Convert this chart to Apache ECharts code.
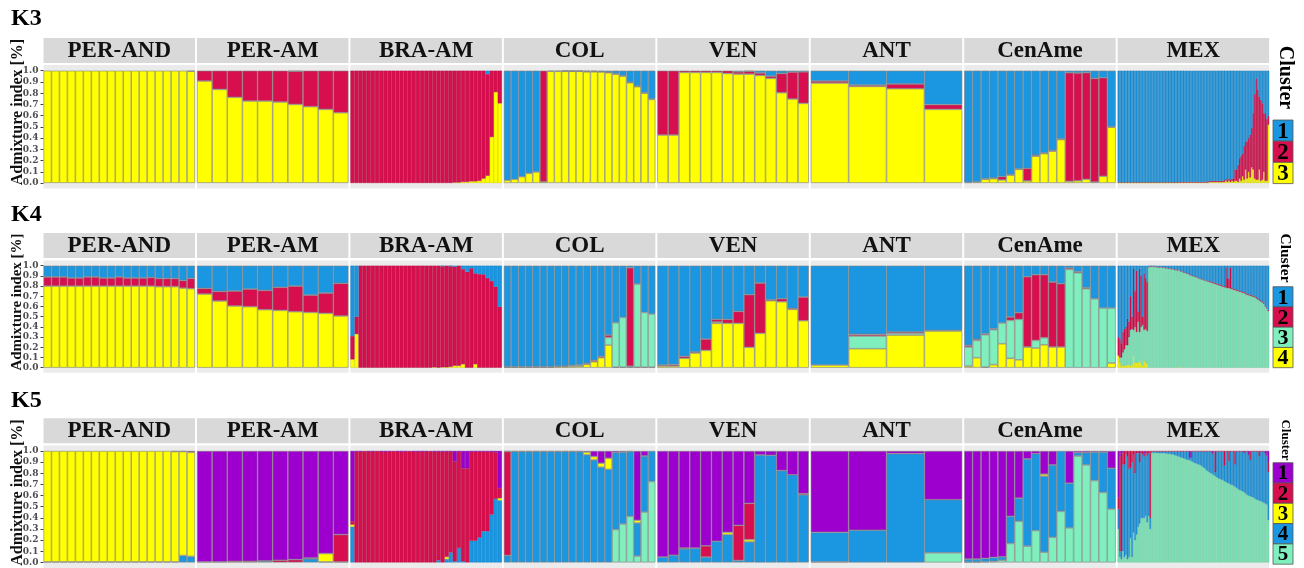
<!DOCTYPE html>
<html><head><meta charset="utf-8">
<script src="https://cdn.jsdelivr.net/npm/echarts@6/dist/echarts.min.js"></script>
<style>html,body{margin:0;padding:0;background:#fff}#c{width:1304px;height:568px}</style>
</head><body><div id="c"></div>
<script>
// ---------- categories / labels ----------
const POPULATIONS = ['PER-AND','PER-AM','BRA-AM','COL','VEN','ANT','CenAme','MEX'];
const Y_TICKS = [0.0,0.1,0.2,0.3,0.4,0.5,0.6,0.7,0.8,0.9,1.0];
const ROW_TITLES = ['K3','K4','K5'];
const CLUSTERS_K3 = ['1','2','3'];
const CLUSTERS_K4 = ['1','2','3','4'];
const CLUSTERS_K5 = ['1','2','3','4','5'];
const BLUE='#1B96E0', RED='#D80F4F', YEL='#FFFF00', GRN='#80EFBE', PUR='#9D00CE';
const COLORS_K3 = [BLUE, RED, YEL];
const COLORS_K4 = [BLUE, RED, GRN, YEL];
const COLORS_K5 = [PUR, RED, YEL, BLUE, GRN];
const EDGE = {'#1B96E0':'#1479B8','#D80F4F':'#A90B3D','#FFFF00':'#C8C800','#80EFBE':'#5EBF94','#9D00CE':'#7600A0'};

// ---------- K3 : [c1,c2,c3] per individual ----------
const K3_PER_AND = [[0,0,1],[0,0,1],[0,0,1],[0,0,1],[0,0,1],[0,0,1],[0,0,1],[0,0,1],[0,0,1],[0,0,1],
 [0,0,1],[0,0,1],[0,0,1],[0,0,1],[0,0,1],[0,0,1],[0,0,1],[0,0,1],[0,.005,.995]];
const K3_PER_AM = [[0,.092,.908],[0,.166,.834],[0,.237,.763],[0,.27,.73],[0,.27,.73],[0,.279,.721],[.005,.295,.70],[0,.32,.68],[0,.344,.656],[0,.374,.626]];
const K3_BRA_AM = [[0,1,0],[0,1,0],[0,1,0],[0,1,0],[0,1,0],[0,1,0],[0,1,0],[0,1,0],[0,1,0],[0,1,0],
 [0,1,0],[0,1,0],[0,1,0],[0,1,0],[0,1,0],[0,1,0],[0,1,0],[0,1,0],[0,1,0],[0,1,0],
 [0,1,0],[0,1,0],[0,1,0],[0,1,0],[0,1,0],[0,.995,.005],[0,.995,.005],[0,.99,.01],[0,.99,.01],[0,.985,.015],
 [0,.985,.015],[0,.98,.02],[0,.96,.04],[.03,.905,.065],[0,.59,.41],[0,.19,.81],[0,.29,.71]];
const K3_COL = [[.976,0,.024],[.967,0,.033],[.944,0,.056],[.914,0,.086],[.902,0,.098],[0,.99,.01],[0,.005,.995],[0,.005,.995],[.002,.003,.995],[.003,.002,.995],
 [.003,.002,.995],[.005,.005,.99],[.005,.005,.99],[.008,.002,.99],[.013,.005,.982],[.025,.005,.97],[.043,.005,.952],[.102,.005,.893],[.137,.005,.858],[.195,.005,.80],[.25,.005,.745]];
const K3_VEN = [[0,.573,.427],[0,.573,.427],[0,.015,.985],[0,.015,.985],[0,.015,.985],[0,.015,.985],[0,.024,.976],[.01,.02,.97],[.005,.025,.97],[.02,.022,.958],
 [.048,.02,.932],[.024,.172,.804],[.012,.24,.748],[.01,.281,.709]];
const K3_ANT = [[.092,.018,.89],[.128,.012,.86],[.118,.042,.84],[.302,.042,.656]];
const K3_CENAME = [[.994,0,.006],[.991,0,.009],[.961,.006,.033],[.955,.006,.039],[.943,.03,.027],[.924,.005,.071],[.873,.005,.122],[.869,.113,.018],[.753,.009,.238],[.732,.006,.262],
 [.709,.008,.283],[.607,.006,.387],[.018,.967,.015],[.021,.959,.02],[.018,.949,.033],[.068,.923,.009],[.062,.878,.06],[.498,.005,.497]];
const K3_MEX = [
 [.994,.004,.002],[.994,.004,.002],[.994,.004,.002],[.994,.004,.002],[.994,.004,.002],[.994,.004,.002],[.994,.004,.002],[.994,.004,.002],[.994,.004,.002],[.994,.004,.002],
 [.994,.004,.002],[.994,.004,.002],[.994,.004,.002],[.994,.004,.002],[.994,.004,.002],[.994,.004,.002],[.994,.004,.002],[.994,.004,.002],[.994,.004,.002],[.994,.004,.002],
 [.994,.004,.002],[.994,.004,.002],[.994,.004,.002],[.994,.004,.002],[.994,.004,.002],[.994,.004,.002],[.994,.004,.002],[.994,.004,.002],[.994,.004,.002],[.994,.004,.002],
 [.994,.004,.002],[.994,.004,.002],[.994,.004,.002],[.994,.004,.002],[.994,.004,.002],[.994,.004,.002],[.994,.004,.002],[.994,.004,.002],[.994,.004,.002],[.994,.004,.002],
 [.99,.006,.004],[.99,.006,.004],[.99,.006,.004],[.99,.006,.004],[.99,.006,.004],[.99,.006,.004],[.99,.006,.004],[.99,.006,.004],[.99,.006,.004],[.99,.006,.004],
 [.99,.006,.004],[.99,.006,.004],[.99,.006,.004],[.99,.006,.004],[.99,.006,.004],[.99,.006,.004],[.99,.006,.004],[.99,.006,.004],[.99,.006,.004],[.99,.006,.004],
 [.982,.01,.008],[.982,.01,.008],[.982,.01,.008],[.982,.01,.008],[.982,.01,.008],[.982,.01,.008],[.982,.01,.008],[.982,.01,.008],[.982,.01,.008],[.982,.01,.008],
 [.975,.015,.01],[.965,.015,.02],[.975,.015,.01],[.96,.02,.02],[.97,.02,.01],[.96,.02,.02],[.96,.03,.01],[.88,.1,.02],[.88,.1,.02],[.84,.15,.01],
 [.78,.18,.04],[.76,.22,.02],[.74,.2,.06],[.67,.3,.03],[.63,.25,.12],[.63,.33,.04],[.6,.3,.1],[.57,.38,.05],[.51,.35,.14],[.38,.5,.12],
 [.21,.75,.04],[.07,.9,.03],[.17,.8,.03],[.23,.65,.12],[.26,.72,.02],[.29,.68,.03],[.38,.52,.1],[.38,.6,.02],[.43,.55,.02],[.4,.08,.52]];

// ---------- K4 : [c1,c2,c3,c4] per individual ----------
const K4_PER_AND = [[.11,.09,0,.8],[.11,.09,0,.8],[.11,.09,0,.8],[.12,.08,0,.8],[.12,.08,0,.8],[.11,.09,0,.8],[.11,.09,0,.8],[.12,.08,0,.8],[.12,.08,0,.8],[.11,.09,0,.8],
 [.12,.08,0,.8],[.12,.08,0,.8],[.12,.08,0,.8],[.115,.085,0,.8],[.125,.08,0,.795],[.125,.08,0,.795],[.125,.08,0,.795],[.145,.075,0,.78],[.125,.1,0,.775]];
const K4_PER_AM = [[.222,.056,0,.722],[.252,.094,0,.654],[.248,.147,0,.605],[.229,.173,0,.598],[.242,.189,0,.569],[.212,.226,0,.562],[.2,.251,0,.549],[.288,.17,0,.542],[.268,.199,0,.533],[.173,.32,0,.507]];
const K4_BRA_AM = [[.69,.228,0,.082],[.5,.17,0,.33],[0,1,0,0],[0,1,0,0],[0,1,0,0],[0,1,0,0],[0,1,0,0],[0,1,0,0],[0,1,0,0],[0,1,0,0],
 [0,1,0,0],[0,1,0,0],[0,1,0,0],[0,1,0,0],[0,1,0,0],[0,1,0,0],[0,1,0,0],[0,1,0,0],[0,1,0,0],[0,1,0,0],
 [0,.995,0,.005],[0,1,0,0],[.005,.99,0,.005],[0,.995,0,.005],[.005,.985,0,.01],[.01,.97,0,.02],[0,.98,0,.02],[.033,.932,0,.035],[.06,.94,0,0],[.025,.975,0,0],
 [.075,.89,0,.035],[.082,.918,0,0],[.085,.915,0,0],[.12,.88,0,0],[.15,.85,0,0],[.206,.794,0,0],[.402,.598,0,0]];
const K4_COL = [[.99,0,.005,.005],[.99,0,.005,.005],[.99,0,.005,.005],[.99,0,.005,.005],[.99,0,.005,.005],[.99,0,.005,.005],[.99,0,.005,.005],[.985,0,.005,.01],[.985,0,.005,.01],[.977,0,.01,.013],
 [.974,0,.011,.015],[.958,.009,0,.033],[.928,.013,0,.059],[.889,.013,0,.098],[.68,.023,.075,.222],[.559,0,.436,.005],[.507,0,.488,.005],[.02,.965,.01,.005],[.18,0,.815,.005],[.458,0,.537,.005],[.474,0,.521,.005]];
const K4_VEN = [[.974,.01,0,.016],[.97,.014,0,.016],[.889,.019,0,.092],[.846,.01,0,.144],[.719,.111,0,.17],[.526,.026,.013,.435],[.526,.039,0,.435],[.448,.117,0,.435],[.284,.516,0,.2],[.17,.493,0,.337],
 [.333,.01,0,.657],[.324,.029,0,.647],[.418,.01,0,.572],[.307,.232,0,.461]];
const K4_ANT = [[.974,0,0,.026],[.673,.017,.124,.186],[.65,.013,.017,.32],[.634,0,.006,.36]];
const K4_CENAME = [[.781,.016,.187,.016],[.722,.01,.17,.098],[.667,.009,.318,.006],[.618,.009,.343,.03],[.562,0,.203,.235],[.503,.033,.372,.092],[.461,.065,.396,.078],[.108,.686,.003,.203],[.088,.644,.075,.193],[.088,.618,.069,.225],
 [.16,.637,0,.203],[.176,.621,0,.203],[.023,.013,.964,0],[.059,.01,.931,0],[.215,.01,.775,0],[.324,0,.676,0],[.415,0,.585,0],[.415,0,.539,.046]];
const K4_MEX = [
 [.70,.18,0,.12],[.72,.18,.05,.05],[.76,.14,.08,.02],[.65,.2,.13,.02],[.62,.2,.16,.02],[.6,.18,.2,.02],[.52,.26,.19,.03],[.55,.15,.27,.03],[.3,.33,.35,.02],[.5,.12,.35,.03],
 [.03,.6,.25,.12],[.25,.35,.35,.05],[.05,.6,.3,.05],[.45,.1,.4,.05],[.03,.62,.28,.07],[.1,.5,.35,.05],[.5,.08,.4,.02],[.08,.55,.3,.07],[.12,.5,.33,.05],[.16,.48,.32,.04],
 [.01,.005,.985,0],[.005,.005,.99,0],[.005,.005,.99,0],[.005,.005,.99,0],[.005,.005,.99,0],[.01,.005,.985,0],[.01,.005,.985,0],[.015,.005,.98,0],[.01,.005,.985,0],[.015,.005,.98,0],
 [.015,.005,.98,0],[.02,.005,.975,0],[.02,.005,.975,0],[.025,.005,.97,0],[.025,.005,.97,0],[.03,.005,.965,0],[.03,.005,.965,0],[.035,.005,.96,0],[.04,.005,.955,0],[.04,.005,.955,0],
 [.04,.005,.945,.01],[.05,.005,.945,0],[.055,.005,.94,0],[.06,.005,.935,0],[.065,.005,.93,0],[.07,.005,.925,0],[.075,.005,.92,0],[.085,.005,.91,0],[.09,.005,.905,0],[.095,.005,.9,0],
 [.1,.005,.895,0],[.105,.005,.89,0],[.11,.005,.885,0],[.12,.005,.875,0],[.125,.005,.87,0],[.13,.005,.865,0],[.135,.005,.86,0],[.14,.005,.855,0],[.145,.005,.85,0],[.15,.005,.845,0],
 [.15,.01,.84,0],[.155,.01,.835,0],[.16,.01,.83,0],[.165,.01,.825,0],[.17,.01,.82,0],[.175,.01,.815,0],[.18,.01,.81,0],[.185,.01,.805,0],[.19,.01,.8,0],[.195,.01,.795,0],
 [.2,.01,.79,0],[.015,.2,.785,0],[.12,.1,.78,0],[.13,.09,.78,0],[.02,.205,.775,0],[.22,.01,.77,0],[.225,.01,.765,0],[.23,.01,.76,0],[.235,.01,.755,0],[.24,.01,.75,0],
 [.245,.01,.745,0],[.25,.01,.74,0],[.255,.01,.735,0],[.26,.01,.73,0],[.27,.01,.72,0],[.275,.01,.715,0],[.28,.01,.71,0],[.285,.01,.705,0],[.29,.01,.7,0],[.295,.01,.695,0],
 [.3,.01,.69,0],[.31,.01,.68,0],[.32,.01,.67,0],[.33,.01,.66,0],[.34,.01,.65,0],[.35,.01,.64,0],[.365,.01,.625,0],[.39,.01,.6,0],[.41,.01,.58,0],[.435,.01,.555,0]];

// ---------- K5 : [c1,c2,c3,c4,c5] per individual ----------
const K5_PER_AND = [[0,0,.995,.005,0],[0,0,.995,.005,0],[0,0,.995,.005,0],[0,0,.995,.005,0],[0,0,.995,.005,0],[0,0,.995,.005,0],[0,0,.995,.005,0],[0,0,.995,.005,0],[0,0,.995,.005,0],[0,0,.995,.005,0],
 [0,0,.995,.005,0],[0,0,.995,.005,0],[0,0,.995,.005,0],[0,0,.995,.005,0],[0,0,.995,.005,0],[0,0,.995,.005,0],[0,.005,.99,.005,0],[0,.005,.933,.062,0],[0,.012,.934,.054,0]];
const K5_PER_AM = [[.995,.005,0,0,0],[.995,.005,0,0,0],[.99,.01,0,0,0],[.99,.01,0,0,0],[.985,.003,0,.012,0],[.98,.02,0,0,0],[.975,.025,0,0,0],[.96,.007,0,.033,0],[.92,0,.075,.005,0],[.75,.245,0,.005,0]];
const K5_BRA_AM = [[.63,.03,.02,.32,0],[.005,.995,0,0,0],[.005,.995,0,0,0],[0,1,0,0,0],[.005,.995,0,0,0],[.005,.995,0,0,0],[0,1,0,0,0],[.005,.995,0,0,0],[.005,.995,0,0,0],[.005,.995,0,0,0],
 [0,1,0,0,0],[.005,.995,0,0,0],[.005,.995,0,0,0],[.005,.995,0,0,0],[0,1,0,0,0],[.005,.995,0,0,0],[.005,.995,0,0,0],[.005,.995,0,0,0],[.005,.995,0,0,0],[0,1,0,0,0],
 [.005,.995,0,0,0],[.005,.975,0,.02,0],[.005,.995,0,0,0],[.005,.945,.02,.03,0],[.005,.905,0,.09,0],[.095,.895,0,.01,0],[.005,.865,0,.13,0],[.155,.835,0,.01,0],[.155,.845,0,0,0],[.005,.8,0,.195,0],
 [.005,.8,0,.195,0],[.005,.77,0,.225,0],[.005,.715,0,.28,0],[.005,.715,0,.28,0],[.005,.565,0,.43,0],[.01,.42,0,.57,0],[.333,.09,.02,.557,0]];
const K5_COL = [[.005,.932,0,.063,0],[.005,0,0,.995,0],[.005,0,0,.995,0],[.005,0,0,.995,0],[.005,0,0,.995,0],[.005,0,0,.995,0],[.005,0,0,.995,0],[.005,0,0,.995,0],[.005,0,0,.995,0],[.005,0,0,.995,0],
 [.005,0,0,.995,0],[.01,0,.024,.966,0],[.05,0,.03,.92,0],[.11,0,.035,.855,0],[.065,0,.1,.835,0],[.015,0,0,.69,.295],[.01,0,0,.645,.345],[.005,0,0,.581,.414],[.622,0,.024,.297,.057],[.045,0,0,.503,.452],[0,0,0,.274,.726]];
const K5_VEN = [[.952,0,0,.048,0],[.935,0,0,.065,0],[.872,.006,0,.122,0],[.872,0,0,.128,0],[.851,.101,0,.048,0],[.81,0,0,.19,0],[.73,0,.02,.25,0],[.667,.315,0,.018,0],[.47,.325,.02,.185,0],[.036,0,0,.964,0],
 [.039,0,0,.961,0],[.176,0,0,.824,0],[.214,0,0,.786,0],[.383,.01,0,.607,0]];
const K5_ANT = [[.73,0,0,.265,.005],[.711,0,0,.289,0],[.024,0,0,.976,0],[.437,0,0,.477,.086]];
const K5_CENAME = [[.97,0,0,.027,.003],[.97,0,0,.027,.003],[.964,0,0,.03,.006],[.955,0,0,.035,.01],[.95,0,0,.03,.02],[.586,0,0,.244,.17],[.423,0,0,.208,.369],[.071,0,0,.783,.146],[.024,0,0,.69,.286],[.208,0,.018,.682,.092],
 [.125,0,0,.649,.226],[0,0,0,.542,.458],[.289,0,0,.401,.31],[.015,0,0,.03,.955],[.015,0,0,.11,.875],[.01,0,0,.255,.735],[.01,0,0,.362,.628],[.155,0,0,.366,.479]];
const K5_MEX = [
 [.42,.1,0,.18,.3],[.05,.85,0,.05,.05],[.02,.88,0,.07,.03],[.02,.1,0,.78,.1],[0,.12,0,.83,.05],[0,.03,0,.9,.07],[0,.05,0,.92,.03],[0,.16,0,.79,.05],[0,.15,0,.63,.22],[0,.1,0,.85,.05],
 [0,.03,0,.7,.27],[0,.2,0,.6,.2],[0,.02,0,.73,.25],[0,.02,0,.66,.32],[.02,.08,0,.55,.35],[0,.02,0,.58,.4],[0,.03,0,.57,.4],[.03,.02,0,.55,.4],[0,.02,0,.56,.42],[0,.04,0,.6,.36],
 [0,.02,0,.56,.42],[0,.6,0,.1,.3],[0,.005,0,.01,.985],[0,.005,0,.01,.985],[0,.005,0,.01,.985],[0,.005,0,.01,.985],[0,.005,0,.015,.98],[0,.005,0,.015,.98],[0,.005,0,.015,.98],[0,.005,0,.015,.98],
 [0,.005,0,.015,.98],[0,.005,0,.015,.98],[0,.005,0,.02,.975],[0,.005,0,.02,.975],[0,.005,0,.02,.975],[0,.005,0,.025,.97],[0,.005,0,.025,.97],[0,.005,0,.03,.965],[0,.005,0,.035,.96],[0,.005,0,.04,.955],
 [0,.005,0,.045,.95],[0,.005,0,.05,.945],[0,.005,0,.055,.94],[0,.005,0,.06,.935],[0,.005,0,.065,.93],[0,.005,0,.07,.925],[0,.005,0,.075,.92],[.06,0,0,.02,.92],[.06,0,0,.03,.91],[0,.005,0,.09,.905],
 [0,.005,0,.1,.895],[0,.005,0,.105,.89],[0,.005,0,.11,.885],[0,.005,0,.115,.88],[0,.005,0,.12,.875],[0,.005,0,.13,.865],[0,.005,0,.14,.855],[0,.005,0,.15,.845],[0,.005,0,.165,.83],[0,.005,0,.175,.82],
 [0,.005,0,.185,.81],[0,.005,0,.195,.8],[.02,.005,0,.18,.795],[0,.005,0,.21,.785],[0,.19,0,.035,.775],[0,.005,0,.23,.765],[0,.005,0,.24,.755],[0,.005,0,.245,.75],[0,.005,0,.25,.745],[0,.005,0,.255,.74],
 [0,.13,0,.14,.73],[0,.005,0,.275,.72],[0,.005,0,.28,.715],[0,.09,0,.2,.71],[0,.005,0,.295,.7],[0,.005,0,.3,.695],[0,.005,0,.305,.69],[0,.12,0,.2,.68],[0,.005,0,.325,.67],[0,.005,0,.335,.66],
 [0,.005,0,.345,.65],[0,.005,0,.35,.645],[0,.005,0,.355,.64],[.01,.005,0,.355,.63],[0,.005,0,.375,.62],[0,.005,0,.388,.607],[.03,.005,0,.365,.6],[0,.08,0,.325,.595],[0,.005,0,.405,.59],[0,.005,0,.41,.585],
 [0,.005,0,.42,.575],[0,.005,0,.43,.565],[0,.005,0,.435,.56],[0,.05,0,.395,.555],[0,.005,0,.445,.55],[0,.005,0,.45,.545],[0,.005,0,.46,.535],[.02,.005,0,.445,.53],[.04,.005,0,.435,.52],[.1,.09,0,.43,.38]];

// ---------- layout ----------
const SERIF = '"Liberation Serif","Times New Roman",serif';
const ROWS = [
  {title:ROW_TITLES[0], K:3, panels:[K3_PER_AND,K3_PER_AM,K3_BRA_AM,K3_COL,K3_VEN,K3_ANT,K3_CENAME,K3_MEX], colors:COLORS_K3, labels:CLUSTERS_K3,
   titleY:19, stripTop:38, gridTop:65.1, gridH:123.5, yTitleY:112, yTitleSize:16, clusterY:77.5, clusterSize:20, boxTop:120, boxH:21.2, numSize:23},
  {title:ROW_TITLES[1], K:4, panels:[K4_PER_AND,K4_PER_AM,K4_BRA_AM,K4_COL,K4_VEN,K4_ANT,K4_CENAME,K4_MEX], colors:COLORS_K4, labels:CLUSTERS_K4,
   titleY:215, stripTop:233, gridTop:260.6, gridH:112.2, yTitleY:302, yTitleSize:15, clusterY:258, clusterSize:15.5, boxTop:286.7, boxH:20.25, numSize:22},
  {title:ROW_TITLES[2], K:5, panels:[K5_PER_AND,K5_PER_AM,K5_BRA_AM,K5_COL,K5_VEN,K5_ANT,K5_CENAME,K5_MEX], colors:COLORS_K5, labels:CLUSTERS_K5,
   titleY:401, stripTop:418.3, gridTop:445.4, gridH:123.2, yTitleY:492.5, yTitleSize:16, clusterY:440, clusterSize:13, boxTop:462.7, boxH:20.3, numSize:21}
];
const P_LEFT = 43.5, P_STEP = 153.45, P_W = 151.5;

const grids=[], xAxes=[], yAxes=[], series=[], graphics=[];
ROWS.forEach((row, r) => {
  graphics.push({type:'text', x:11, y:row.titleY, style:{text:row.title, font:'bold 24px '+SERIF, fill:'#000', textVerticalAlign:'middle'}});
  graphics.push({type:'text', x:17.5, y:row.yTitleY, rotation:Math.PI/2,
    style:{text:'Admixture index [%]', font:'bold '+row.yTitleSize+'px '+SERIF, fill:'#111', textAlign:'center', textVerticalAlign:'middle'}});
  row.panels.forEach((pd, p) => {
    const gi = grids.length;
    const left = P_LEFT + P_STEP*p;
    grids.push({left:left, top:row.gridTop, width:P_W, height:row.gridH, show:true, backgroundColor:'#EBEBEB', borderWidth:0});
    xAxes.push({type:'category', gridIndex:gi, data:pd.map((_,i)=>i+1), show:false, boundaryGap:true});
    yAxes.push({type:'value', gridIndex:gi, min:-0.05, max:1.05, splitLine:{show:false}, axisLine:{show:false},
      axisTick:{show:p===0, customValues:Y_TICKS, length:3, lineStyle:{color:'#444', width:1}},
      axisLabel:{show:p===0, customValues:Y_TICKS, formatter:v=>Number(v).toFixed(1), margin:5,
        fontFamily:'"DejaVu Serif",serif', fontWeight:'bold', fontSize:9, color:'#4d4d4d'}});
    const dense = pd.length > 30;
    for (let k=row.K-1; k>=0; k--) {
      series.push({type:'bar', xAxisIndex:gi, yAxisIndex:gi, stack:'s'+gi, barCategoryGap:'0%', barGap:'0%',
        data:pd.map(ind => ind[k]===0 ? '-' : ind[k]),
        itemStyle:{color:row.colors[k], borderColor:dense ? EDGE[row.colors[k]] : '#808080', borderWidth:dense?0.4:0.6},
        silent:true, animation:false});
    }
    graphics.push({type:'rect', shape:{x:left, y:row.stripTop, width:P_W, height:25}, style:{fill:'#D9D9D9'}, z:-1});
    graphics.push({type:'text', x:left+P_W/2, y:row.stripTop+13, style:{text:POPULATIONS[p], font:'bold 23px '+SERIF, fill:'#111', textAlign:'center', textVerticalAlign:'middle'}});
  });
  // legend
  graphics.push({type:'text', x:1285, y:row.clusterY, rotation:-Math.PI/2,
    style:{text:'Cluster', font:'bold '+row.clusterSize+'px '+SERIF, fill:'#000', textAlign:'center', textVerticalAlign:'middle'}});
  row.labels.forEach((lab, k) => {
    const y = row.boxTop + k*row.boxH;
    graphics.push({type:'rect', shape:{x:1273, y:y, width:20, height:row.boxH}, style:{fill:row.colors[k], stroke:'#555', lineWidth:0.8}});
    graphics.push({type:'text', x:1283, y:y+row.boxH/2+1, style:{text:lab, font:'bold '+row.numSize+'px '+SERIF, fill:'#000', textAlign:'center', textVerticalAlign:'middle'}});
  });
});

const chart = echarts.init(document.getElementById('c'), null, {renderer:'canvas'});
chart.setOption({animation:false, backgroundColor:'#fff', grid:grids, xAxis:xAxes, yAxis:yAxes, series:series, graphic:graphics});
</script>
</body></html>
